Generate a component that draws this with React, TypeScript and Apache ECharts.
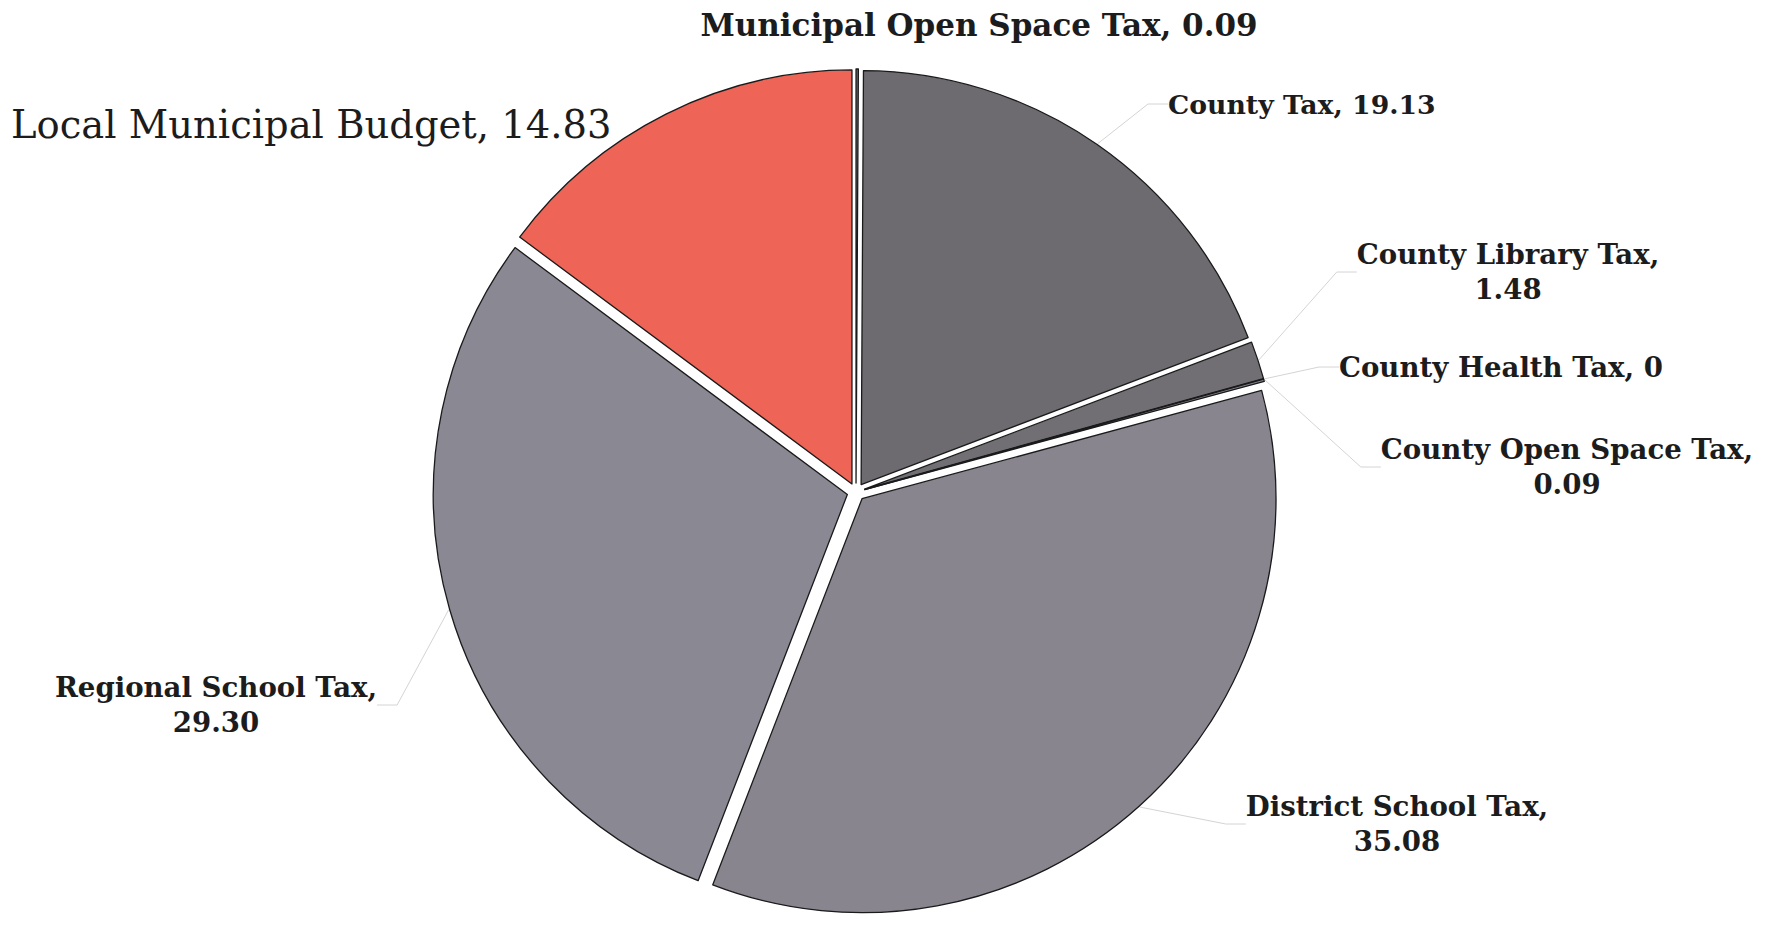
import React, { useEffect, useRef } from "react";
import * as echarts from "echarts";

const categories = [
  "Municipal Open Space Tax",
  "County Tax",
  "County Library Tax",
  "County Health Tax",
  "County Open Space Tax",
  "District School Tax",
  "Regional School Tax",
  "Local Municipal Budget",
];
const values = [0.09, 19.13, 1.48, 0, 0.09, 35.08, 29.3, 14.83];
const sliceColors = ["#6e6b70", "#6e6b70", "#716e74", "#7a7780", "#86838e", "#88858f", "#8a8893", "#ee6456"];
const wrapAfterComma = [false, false, true, false, true, true, true, false];
// label anchor: [x, y, align]
const labelAnchors: [number, number, string][] = [
  [979, 25, "center"],
  [1168, 104, "left"],
  [1508, 272, "center"],
  [1339, 367, "left"],
  [1567, 467, "center"],
  [1397, 824, "center"],
  [216, 705, "center"],
  [11, 124, "left"],
];
const showLine = [false, true, true, true, true, true, true, false];

function fmt(v: number) {
  return v === 0 ? "0" : v.toFixed(2);
}

export default function App() {
  const ref = useRef<HTMLDivElement>(null);
  useEffect(() => {
    document.body.style.margin = "0";
    const chart = echarts.init(ref.current!, null, { renderer: "svg" });
    const center = [856, 492];
    const sliceData = categories.map((name, i) => ({
      name,
      value: values[i],
      selected: true,
      itemStyle: { color: sliceColors[i] },
    }));
    const labelData = categories.map((name, i) => {
      const big = i === 7;
      const top = i === 0;
      return {
        name,
        value: values[i],
        label: {
          formatter: name + "," + (wrapAfterComma[i] ? "\n" : " ") + fmt(values[i]),
          fontSize: big ? 38.5 : top ? 31 : i === 1 ? 26.7 : 27.6,
          fontWeight: big ? "normal" : "bold",
          lineHeight: big ? 44 : 35,
        },
        labelLine: { show: showLine[i] },
      };
    });
    chart.setOption({
      animation: false,
      backgroundColor: "#ffffff",
      series: [
        {
          type: "pie",
          center,
          radius: 414,
          startAngle: 90,
          clockwise: true,
          selectedMode: "multiple",
          selectedOffset: 9,
          silent: true,
          emphasis: { disabled: true },
          select: { itemStyle: { borderColor: "#1a1a1a", borderWidth: 1.3 } },
          itemStyle: { borderColor: "#1a1a1a", borderWidth: 1.3 },
          label: { show: false },
          labelLine: { show: false },
          data: sliceData,
        },
        {
          type: "pie",
          center,
          radius: 424,
          startAngle: 90,
          clockwise: true,
          silent: true,
          avoidLabelOverlap: false,
          emphasis: { disabled: true },
          itemStyle: { color: "rgba(0,0,0,0)", borderWidth: 0 },
          label: {
            show: true,
            position: "outside",
            color: "#1c1c1c",
            fontFamily: "'DejaVu Serif', 'Liberation Serif', serif",
            align: "center",
          },
          labelLine: {
            show: true,
            length: 20,
            length2: 20,
            lineStyle: { color: "#d4d4d4", width: 1 },
          },
          labelLayout: (p: any) => {
            const a = labelAnchors[p.dataIndex];
            return { x: a[0], y: a[1], align: a[2], verticalAlign: "middle" };
          },
          data: labelData,
        },
      ],
    });
    return () => chart.dispose();
  }, []);
  return <div ref={ref} style={{ width: 1769, height: 925 }} />;
}
